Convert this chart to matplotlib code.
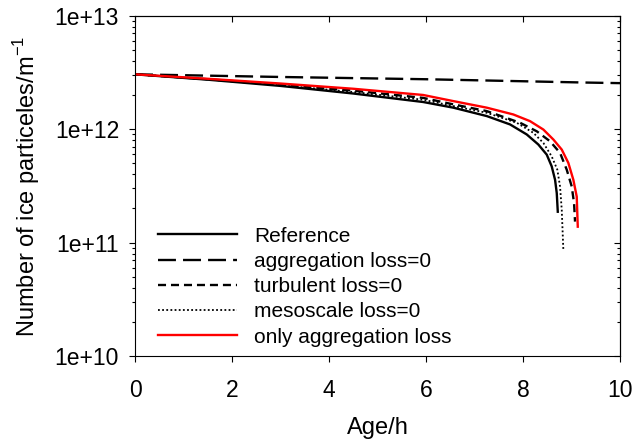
import matplotlib

matplotlib.use("Agg")
import matplotlib.pyplot as plt  # noqa: E402

plt.rcParams["font.family"] = ["Liberation Sans", "DejaVu Sans"]
plt.rcParams["mathtext.fontset"] = "custom"
plt.rcParams["mathtext.rm"] = "Liberation Sans"

# values (age in h, particles per m)
ref_age = [0, 1.5, 3, 4.5, 5.94, 6.563, 7.252, 7.732, 8.076, 8.315, 8.488, 8.591, 8.66,
           8.695, 8.716]
ref_n = [3.05e12, 2.735e12, 2.41e12, 2.065e12, 1.738e12, 1.549e12, 1.306e12, 1.102e12,
         8.99e11, 7.33e11, 5.97e11, 4.70e11, 3.58e11, 2.73e11, 1.87e11]

agg0_age = [0, 3, 6, 9.3, 10]
agg0_n = [3.05e12, 2.89e12, 2.76e12, 2.58e12, 2.55e12]

turb0_age = [0, 1.5, 3, 4.5, 5.94, 6.563, 7.252, 7.938, 8.282, 8.557, 8.763, 8.901, 9.004,
             9.052, 9.072]
turb0_n = [3.05e12, 2.76e12, 2.48e12, 2.19e12, 1.89e12, 1.656e12, 1.445e12, 1.14e12,
           9.59e11, 7.82e11, 6.18e11, 4.39e11, 3.12e11, 2.22e11, 1.53e11]

meso0_age = [0, 1.5, 3, 4.5, 5.94, 6.563, 7.252, 7.87, 8.213, 8.419, 8.591, 8.707, 8.763,
             8.798, 8.831]
meso0_n = [3.05e12, 2.75e12, 2.44e12, 2.13e12, 1.82e12, 1.60e12, 1.396e12, 1.14e12,
           9.29e11, 7.57e11, 5.75e11, 4.39e11, 3.12e11, 1.94e11, 8.55e10]

aggonly_age = [0, 1.5, 3, 4.5, 5.94, 6.563, 7.252, 7.8, 8.144, 8.419, 8.625, 8.798, 8.934,
               9.037, 9.107, 9.128]
aggonly_n = [3.05e12, 2.786e12, 2.53e12, 2.275e12, 2.005e12, 1.77e12, 1.549e12, 1.349e12,
             1.178e12, 9.93e11, 8.11e11, 6.61e11, 5.04e11, 3.58e11, 2.54e11, 1.38e11]

x_ticks = [0, 2, 4, 6, 8, 10]
y_ticks = [1e10, 1e11, 1e12, 1e13]
y_tick_labels = ["1e+10", "1e+11", "1e+12", "1e+13"]

fig = plt.figure(figsize=(6.34, 4.41), dpi=100)
ax = fig.add_axes([0.213, 0.193, 0.765, 0.771])

ax.plot(ref_age, ref_n, color="black", linewidth=1.7, label="Reference")
ax.plot(agg0_age, agg0_n, color="black", linewidth=1.7, dashes=(7.6, 3.0),
        label="aggregation loss=0")
ax.plot(turb0_age, turb0_n, color="black", linewidth=1.7, dashes=(3.4, 2.1),
        label="turbulent loss=0")
ax.plot(meso0_age, meso0_n, color="black", linewidth=1.3, dashes=(1.0, 1.3),
        label="mesoscale loss=0")
ax.plot(aggonly_age, aggonly_n, color="red", linewidth=1.7, label="only aggregation loss")

ax.set_yscale("log")
ax.set_xlim(0, 10)
ax.set_ylim(1e10, 1e13)
ax.set_xticks(x_ticks)
ax.set_yticks(y_ticks)
ax.set_yticklabels(y_tick_labels)
ax.tick_params(labelsize=16.5, width=0.8, length=4.5, direction="out", top=False, right=False)
ax.tick_params(axis="x", pad=12)
ax.tick_params(axis="y", pad=7)
ax.tick_params(which="minor", width=0.8, length=2.5, direction="out")

# mirrored ticks on top/right pointing inward
ax_top = ax.secondary_xaxis("top")
ax_top.set_xticks(x_ticks)
ax_top.tick_params(direction="in", length=4.5, width=0.8, labeltop=False)
ax_right = ax.secondary_yaxis("right")
ax_right.set_yticks(y_ticks)
ax_right.tick_params(direction="in", length=4.5, width=0.8, labelright=False)
ax_right.tick_params(which="minor", direction="in", length=2.5, width=0.8)

for spine in ax.spines.values():
    spine.set_linewidth(0.8)

ax.set_xlabel("Age/h", fontsize=17, labelpad=11)
ax.set_ylabel(r"Number of ice particeles/m$^{\mathregular{-1}}$", fontsize=17, labelpad=9)

ax.legend(loc="lower left", bbox_to_anchor=(0.012, -0.022), frameon=False, fontsize=15,
          handlelength=3.8, handletextpad=0.85, labelspacing=0.30, borderpad=0.3)

fig.savefig("out.png", dpi=100)
